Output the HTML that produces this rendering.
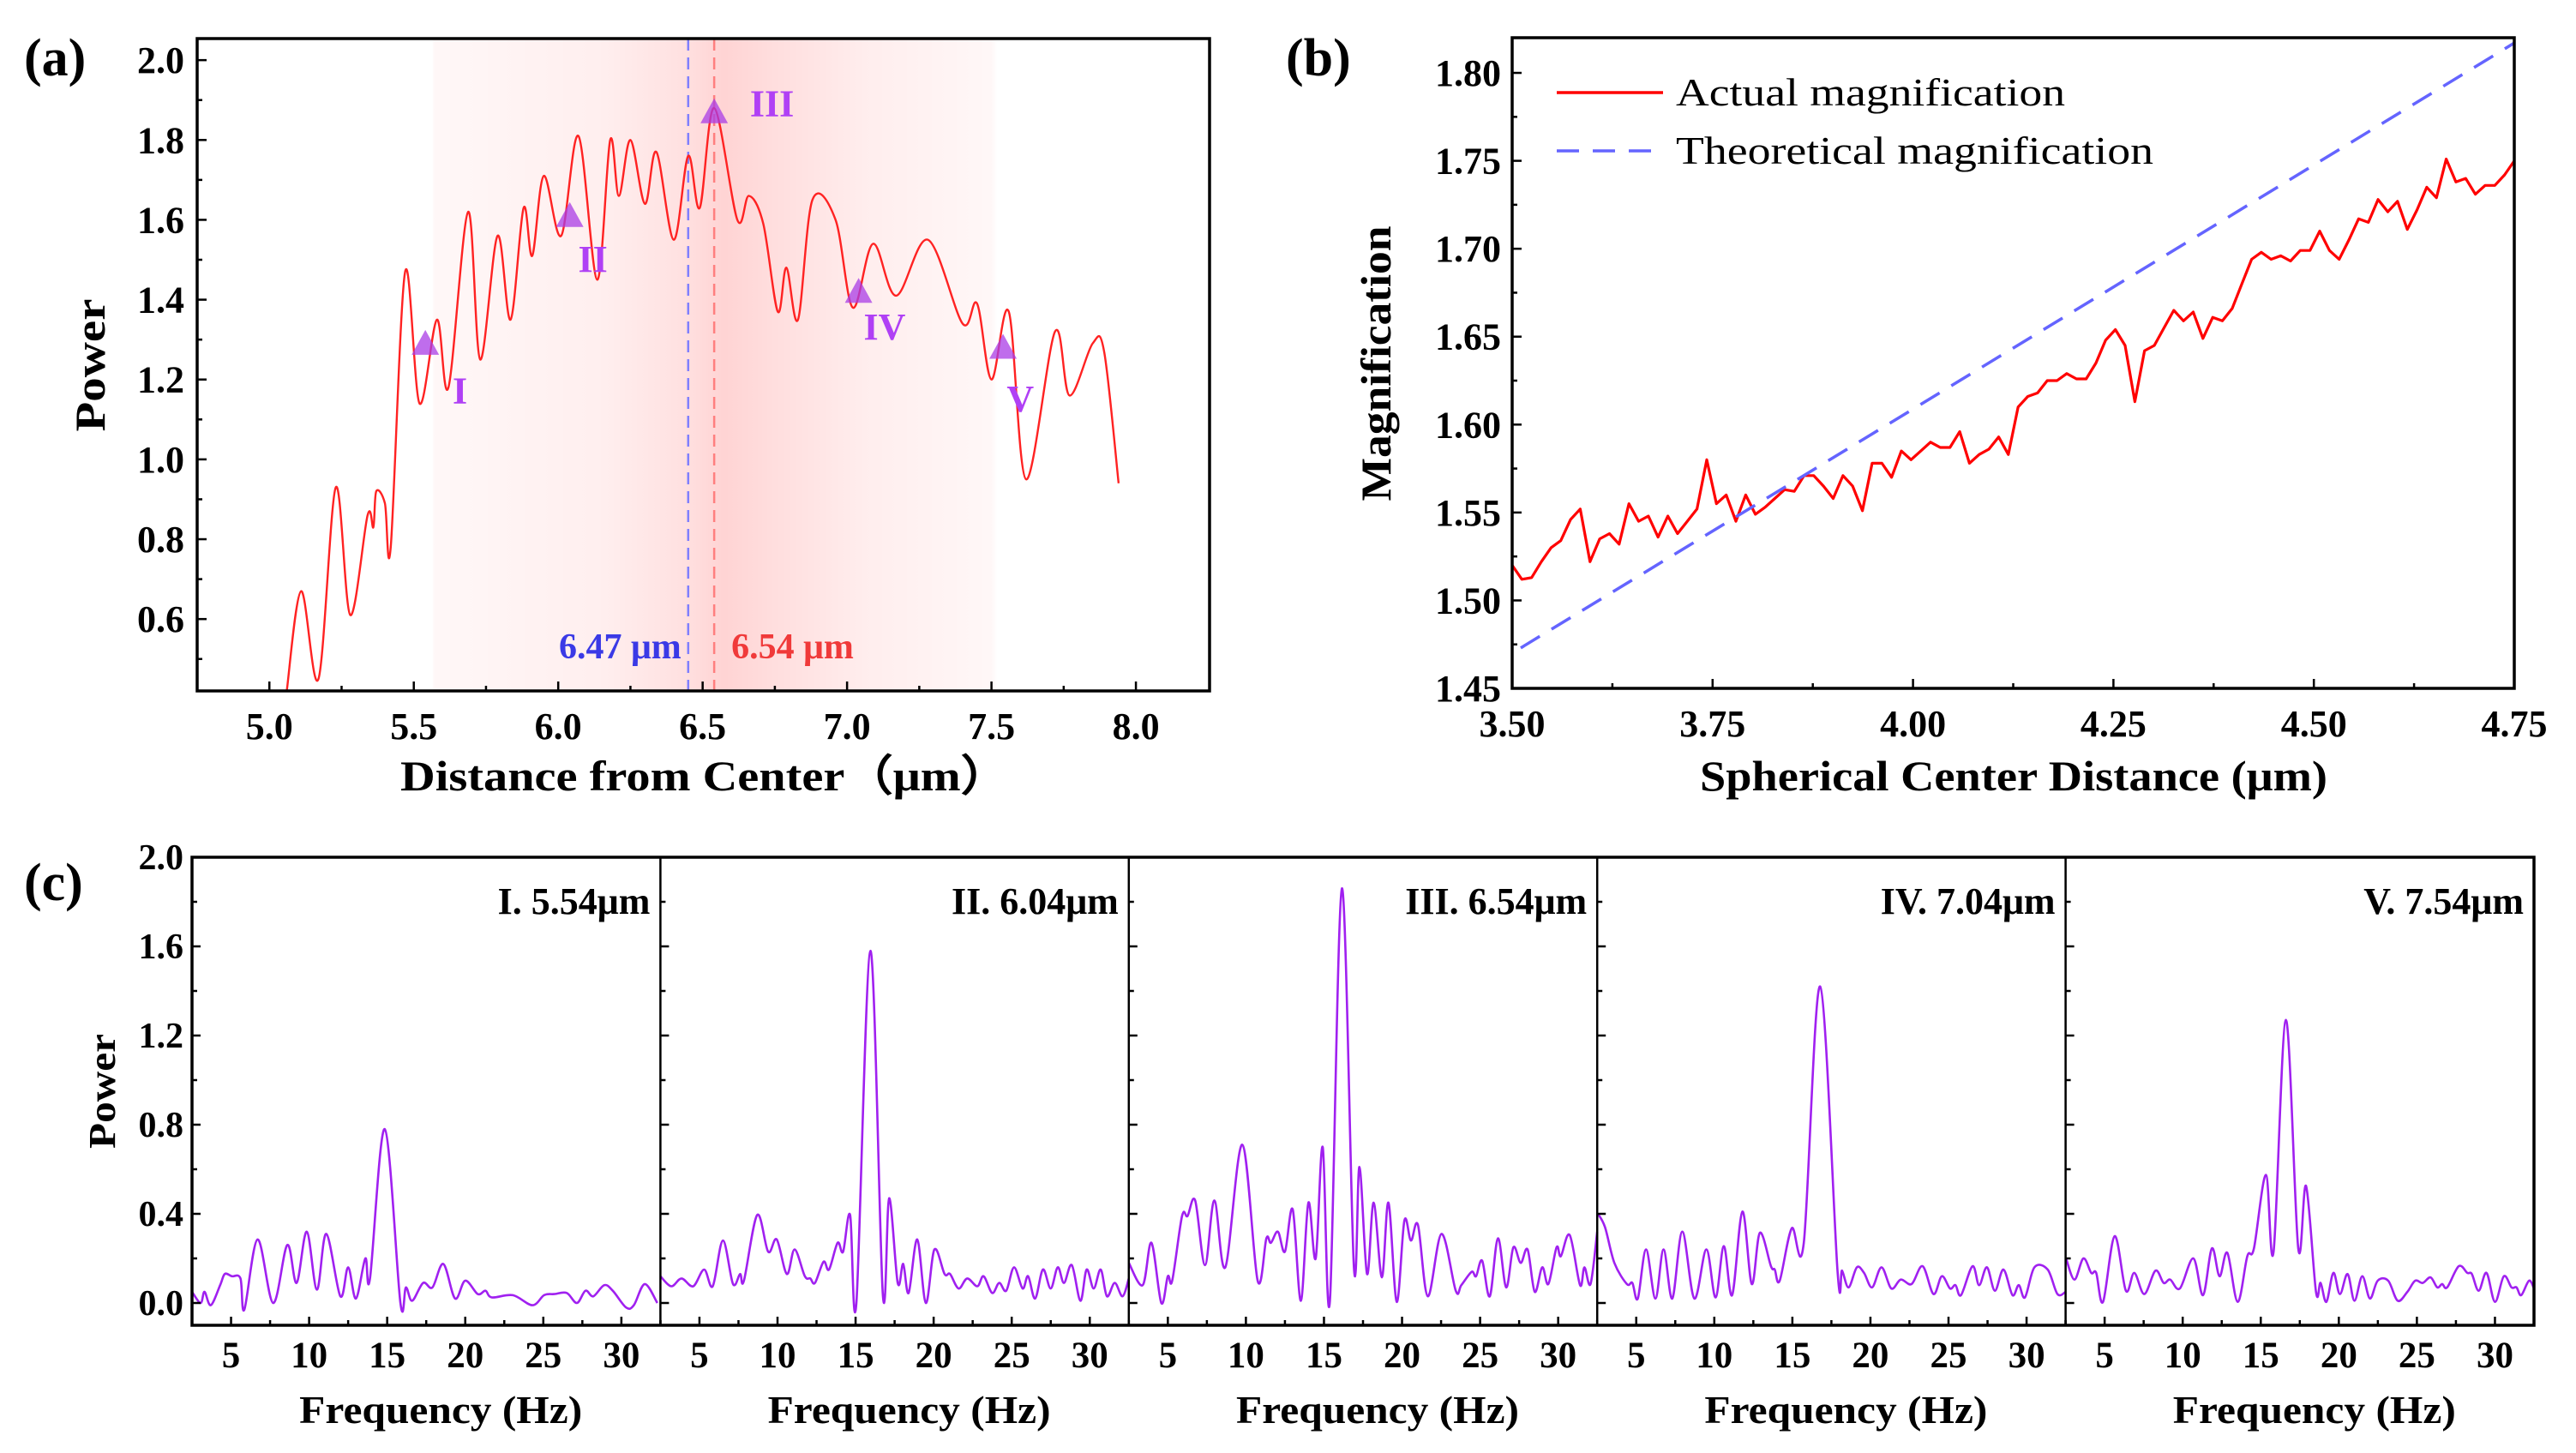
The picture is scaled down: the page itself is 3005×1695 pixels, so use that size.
<!DOCTYPE html>
<html><head><meta charset="utf-8"><title>Figure</title>
<style>html,body{margin:0;padding:0;background:#fff}svg{display:block}text{font-family:"Liberation Serif","Times New Roman",serif;font-weight:bold;fill:#000}</style>
</head><body>
<svg id="fig" xmlns="http://www.w3.org/2000/svg" width="3005" height="1695" viewBox="0 0 3005 1695" font-family="Liberation Serif, Times New Roman, serif">
<defs>
<linearGradient id="bandGrad" x1="230" x2="1411" y1="0" y2="0" gradientUnits="userSpaceOnUse">
<stop offset="0.232" stop-color="#ff0000" stop-opacity="0"/>
<stop offset="0.234" stop-color="#ff0000" stop-opacity="0.03"/>
<stop offset="0.40" stop-color="#ff0000" stop-opacity="0.065"/>
<stop offset="0.48" stop-color="#ff0000" stop-opacity="0.12"/>
<stop offset="0.52" stop-color="#ff0000" stop-opacity="0.17"/>
<stop offset="0.57" stop-color="#ff0000" stop-opacity="0.13"/>
<stop offset="0.66" stop-color="#ff0000" stop-opacity="0.07"/>
<stop offset="0.785" stop-color="#ff0000" stop-opacity="0.03"/>
<stop offset="0.79" stop-color="#ff0000" stop-opacity="0"/>
</linearGradient>
</defs>
<g id="pa"></g>
<g id="pb"></g>
<g id="pc"></g>
</svg>
<script>
// ---------- data: panel (a) ----------
const aX = [5.06,5.11,5.17,5.23,5.28,5.34,5.36,5.37,5.40,5.42,5.47,5.52,5.58,5.62,5.688,5.73,5.79,5.835,5.88,5.91,5.95,6.01,6.07,6.135,6.18,6.21,6.25,6.30,6.34,6.40,6.45,6.49,6.54,6.62,6.66,6.71,6.76,6.79,6.83,6.88,6.96,7.02,7.09,7.17,7.28,7.40,7.45,7.50,7.56,7.62,7.72,7.77,7.85,7.89,7.94];
const aY = [0.42,0.67,0.45,0.93,0.61,0.86,0.83,0.92,0.89,0.78,1.47,1.14,1.35,1.18,1.62,1.25,1.56,1.35,1.63,1.51,1.71,1.56,1.81,1.45,1.80,1.66,1.80,1.64,1.77,1.55,1.76,1.63,1.88,1.60,1.66,1.59,1.37,1.48,1.35,1.65,1.60,1.38,1.54,1.41,1.55,1.34,1.39,1.20,1.37,0.95,1.32,1.16,1.29,1.27,0.94];
const markX = [5.54,6.04,6.54,7.04,7.54];
const markY = [1.29,1.61,1.87,1.42,1.28];
const markLabels = ["I","II","III","IV","V"];
const markLabelX = [5.66,6.12,6.74,7.13,7.60];
const markLabelY = [1.17,1.50,1.89,1.33,1.15];
const aXTicks = [5.0,5.5,6.0,6.5,7.0,7.5,8.0];
const aYTicks = [0.6,0.8,1.0,1.2,1.4,1.6,1.8,2.0];
const vlineBlue = 6.45, vlineRed = 6.54;
// ---------- data: panel (b) ----------
const actualMag = [1.520,1.512,1.513,1.522,1.530,1.534,1.546,1.552,1.522,1.535,1.538,1.532,1.555,1.545,1.548,1.536,1.548,1.538,1.545,1.552,1.580,1.555,1.560,1.545,1.560,1.549,1.553,1.558,1.563,1.562,1.571,1.571,1.565,1.558,1.571,1.565,1.551,1.578,1.578,1.570,1.585,1.580,1.585,1.590,1.587,1.587,1.596,1.578,1.583,1.586,1.593,1.583,1.610,1.616,1.618,1.625,1.625,1.629,1.626,1.626,1.635,1.648,1.654,1.645,1.613,1.642,1.645,1.655,1.665,1.659,1.664,1.649,1.661,1.659,1.666,1.680,1.694,1.698,1.694,1.696,1.693,1.699,1.699,1.710,1.699,1.694,1.705,1.717,1.715,1.728,1.721,1.727,1.711,1.722,1.735,1.729,1.751,1.738,1.740,1.731,1.736,1.736,1.742,1.750];
const magStart = 3.50, magEnd = 4.75;
const theoX = [3.50,4.75];
const theoY = [1.473,1.817];
const bXTicks = [3.50,3.75,4.00,4.25,4.50,4.75];
const bYTicks = [1.45,1.50,1.55,1.60,1.65,1.70,1.75,1.80];
// ---------- data: panel (c) ----------
const s1F = [2.5,3.05,3.3,3.7,4.3,4.6,5.05,5.6,5.85,6.7,7.7,8.6,9.2,9.85,10.5,11.1,12.0,12.5,13.0,13.6,13.9,14.85,15.85,16.2,16.6,17.3,17.9,18.6,19.35,20.0,20.8,21.3,21.7,23.05,24.3,25.05,25.7,26.5,27.15,27.7,28.2,28.9,29.45,30.3,30.8,31.5,32.3];
const s1P = [0.05,0,0.05,-0.01,0.08,0.13,0.12,0.11,-0.03,0.285,0,0.26,0.09,0.32,0.06,0.31,0.03,0.16,0.02,0.2,0.11,0.78,0,0.07,0.01,0.09,0.07,0.175,0.02,0.10,0.04,0.055,0.025,0.035,-0.01,0.035,0.04,0.045,0,0.055,0.03,0.08,0.055,-0.02,-0.01,0.085,0];
const s2F = [2.5,3.2,3.85,4.6,5.3,5.85,6.5,7.15,7.6,7.85,8.7,9.4,9.95,10.6,11.1,11.75,12.1,12.4,12.95,13.3,13.85,14.2,14.65,15.05,15.95,16.75,17.15,17.7,18.05,18.4,18.95,19.5,20.05,20.7,21.05,21.6,22.15,22.8,23.2,23.75,24.2,24.65,25.15,25.7,26.05,26.5,27.0,27.5,27.95,28.35,28.85,29.4,29.8,30.25,30.7,31.1,31.6,32.1,32.5];
const s2P = [0.12,0.075,0.11,0.075,0.15,0.075,0.28,0.085,0.13,0.1,0.395,0.23,0.285,0.13,0.24,0.12,0.11,0.09,0.185,0.15,0.27,0.23,0.395,0,1.58,0.035,0.47,0.09,0.175,0.045,0.285,0,0.24,0.13,0.13,0.065,0.11,0.075,0.12,0.045,0.09,0.055,0.16,0.065,0.12,0.02,0.15,0.065,0.16,0.09,0.17,0.01,0.15,0.065,0.15,0.03,0.09,0.03,0.11];
const s3F = [2.5,3.39,3.95,4.58,5.0,5.28,5.91,6.26,6.75,7.38,7.98,8.68,9.77,10.75,11.31,11.6,12.05,12.5,13.0,13.52,14.0,14.47,14.92,15.38,16.15,16.92,17.27,17.76,18.18,18.71,19.13,19.66,20.15,20.57,21.02,21.65,22.53,23.44,23.8,24.46,24.74,25.13,25.62,26.14,26.67,27.13,27.6,28.04,28.5,28.98,29.37,29.9,30.17,30.74,31.4,31.68,32.07,32.5];
const s3P = [0.18,0.08,0.27,0,0.12,0.10,0.39,0.39,0.46,0.17,0.46,0.16,0.71,0.10,0.29,0.27,0.32,0.23,0.42,0.01,0.45,0.2,0.70,0.01,1.86,0.16,0.61,0.13,0.45,0.115,0.45,0.005,0.37,0.28,0.35,0.03,0.31,0.055,0.08,0.14,0.12,0.19,0.03,0.29,0.07,0.25,0.18,0.24,0.05,0.16,0.085,0.25,0.21,0.305,0.08,0.16,0.085,0.32];
const s4F = [2.55,3.0,3.6,4.4,4.75,5.1,5.63,6.23,6.75,7.31,7.95,8.72,9.49,10.08,10.61,11.14,11.8,12.4,12.92,13.63,13.87,14.19,14.96,15.73,16.78,17.9,18.18,18.6,19.13,19.59,20.11,20.71,21.34,21.94,22.64,23.34,24.04,24.57,25.1,25.45,25.8,26.54,26.96,27.46,27.97,28.52,29.1,29.5,29.9,30.5,31.35,31.98,32.5];
const s4P = [0.40,0.34,0.18,0.085,0.09,0.02,0.24,0.02,0.24,0.02,0.32,0.02,0.24,0.025,0.255,0.035,0.41,0.085,0.315,0.165,0.15,0.1,0.335,0.27,1.42,0.135,0.145,0.07,0.16,0.135,0.07,0.16,0.065,0.105,0.085,0.165,0.04,0.12,0.065,0.08,0.035,0.165,0.08,0.16,0.055,0.15,0.035,0.08,0.025,0.16,0.15,0.04,0.05];
const s5F = [2.55,3.07,3.64,4.14,4.46,4.9,5.64,6.36,6.9,7.54,8.26,8.78,9.2,9.82,10.68,11.3,11.87,12.36,12.86,13.52,14.14,14.56,15.33,15.82,16.61,17.4,17.9,18.54,18.83,19.2,19.65,20.07,20.56,21.0,21.5,21.99,22.49,23.16,23.77,24.39,24.89,25.38,25.88,26.3,26.62,26.94,27.68,28.23,28.52,28.96,29.46,30.0,30.57,31.06,31.38,31.68,32.18,32.5];
const s5P = [0.195,0.105,0.2,0.135,0.135,0.005,0.3,0.055,0.135,0.04,0.145,0.09,0.105,0.065,0.2,0.035,0.245,0.12,0.225,0.005,0.21,0.245,0.575,0.23,1.27,0.245,0.525,0.05,0.09,0.005,0.135,0.04,0.13,0.01,0.12,0.02,0.1,0.1,0.01,0.05,0.1,0.09,0.115,0.07,0.085,0.07,0.165,0.135,0.13,0.055,0.135,0.005,0.12,0.07,0.07,0.035,0.1,0.065];
const cTitles = ["I. 5.54μm","II. 6.04μm","III. 6.54μm","IV. 7.04μm","V. 7.54μm"];
const cXTicks = [5,10,15,20,25,30];
const cYTicks = [0.0,0.4,0.8,1.2,1.6,2.0];

const NS = "http://www.w3.org/2000/svg";
function mk(parent, tag, attrs, text) {
  const e = document.createElementNS(NS, tag);
  for (const k in attrs) e.setAttribute(k, attrs[k]);
  if (text !== undefined) e.textContent = text;
  parent.appendChild(e);
  return e;
}
function smoothPath(pts) {
  let d = "M" + pts[0][0].toFixed(1) + "," + pts[0][1].toFixed(1);
  for (let i = 0; i < pts.length - 1; i++) {
    const p0 = pts[i - 1] || pts[i], p1 = pts[i], p2 = pts[i + 1], p3 = pts[i + 2] || p2;
    const c1x = p1[0] + (p2[0] - p0[0]) / 6, c1y = p1[1] + (p2[1] - p0[1]) / 6;
    const c2x = p2[0] - (p3[0] - p1[0]) / 6, c2y = p2[1] - (p3[1] - p1[1]) / 6;
    d += " C" + c1x.toFixed(1) + "," + c1y.toFixed(1) + " " + c2x.toFixed(1) + "," + c2y.toFixed(1) + " " + p2[0].toFixed(1) + "," + p2[1].toFixed(1);
  }
  return d;
}

// ================= Panel A =================
(function () {
  const g = document.getElementById("pa");
  const L = 230, R = 1411, T = 45, B = 806;
  const x0 = 4.75, x1 = 8.255, y0 = 0.42, y1 = 2.054;
  const sx = v => L + (v - x0) / (x1 - x0) * (R - L);
  const sy = v => B - (v - y0) / (y1 - y0) * (B - T);
  let e;
  e = mk(g, "rect", {x: L, y: T, width: R - L, height: B - T, fill: "url(#bandGrad)"});
  
  
  e = mk(g, "line", {x1: sx(vlineBlue), x2: sx(vlineBlue), y1: T, y2: B, stroke: "#7f7fff", "stroke-width": 2.5, "stroke-dasharray": "14 8"});
  
  
  e = mk(g, "line", {x1: sx(vlineRed), x2: sx(vlineRed), y1: T, y2: B, stroke: "#ff7f7f", "stroke-width": 2.5, "stroke-dasharray": "14 8"});
  
  
  const pts = aX.map((v, i) => [sx(v), sy(aY[i])]);
  e = mk(g, "path", {d: smoothPath(pts), fill: "none", stroke: "#f22", "stroke-width": 2.4});
  
  
  markX.forEach((v, i) => {
    const cx = sx(v), cy = sy(markY[i]);
    const t = mk(g, "polygon", {points: (cx - 16) + "," + (cy + 13) + " " + (cx + 16) + "," + (cy + 13) + " " + cx + "," + (cy - 16), fill: "rgba(170,60,230,0.75)"});
    
    
    const lb = mk(g, "text", {x: sx(markLabelX[i]), y: sy(markLabelY[i]) + 14, "font-size": 44, "text-anchor": "middle", style: "fill:#b040f5"}, markLabels[i]);
    
    
  });
  e = mk(g, "text", {x: sx(vlineBlue) - 8, y: 768, "font-size": 42, "text-anchor": "end", style: "fill:#3a3ae6"}, "6.47 μm");
  
  
  e = mk(g, "text", {x: sx(vlineRed) + 20, y: 768, "font-size": 42, style: "fill:#f03a3a"}, "6.54 μm");
  
  
  for (let v = 5.0; v <= 8.0001; v += 0.25) {
    const len = Math.abs(v * 2 - Math.round(v * 2)) < 1e-6 ? 11 : 6;
    e = mk(g, "line", {x1: sx(v), x2: sx(v), y1: B, y2: B - len, stroke: "#000", "stroke-width": 2.5});
    
    
  }
  aXTicks.forEach(v => {
    e = mk(g, "text", {x: sx(v), y: 862, "font-size": 44, "text-anchor": "middle"}, v.toFixed(1));
    
    
  });
  for (let v = 0.5; v <= 2.0001; v += 0.1) {
    const major = Math.abs(v * 5 - Math.round(v * 5)) < 1e-6;
    e = mk(g, "line", {x1: L, x2: L + (major ? 11 : 6), y1: sy(v), y2: sy(v), stroke: "#000", "stroke-width": 2.5});
    
    
  }
  aYTicks.forEach(v => {
    e = mk(g, "text", {x: 215, y: sy(v) + 15, "font-size": 44, "text-anchor": "end"}, v.toFixed(1));
    
    
  });
  e = mk(g, "rect", {x: L, y: T, width: R - L, height: B - T, fill: "none", stroke: "#000", "stroke-width": 3.5});
  
  
  e = mk(g, "text", {x: 822, y: 922, "font-size": 50, "text-anchor": "middle", textLength: 710, lengthAdjust: "spacingAndGlyphs"}, "Distance from Center（μm）");
  
  
  e = mk(g, "text", {x: 0, y: 0, "font-size": 50, "text-anchor": "middle", transform: "translate(122,426) rotate(-90)", textLength: 155, lengthAdjust: "spacingAndGlyphs"}, "Power");
  
  
  e = mk(g, "text", {x: 28, y: 88, "font-size": 62}, "(a)");
  
  
})();

// ================= Panel B =================
(function () {
  const g = document.getElementById("pb");
  const L = 1764, R = 2933, T = 44, B = 803;
  const x0 = 3.50, x1 = 4.75, y0 = 1.45, y1 = 1.82;
  const sx = v => L + (v - x0) / (x1 - x0) * (R - L);
  const sy = v => B - (v - y0) / (y1 - y0) * (B - T);
  let e;
  const step = (magEnd - magStart) / (actualMag.length - 1);
  const pts = actualMag.map((v, i) => [sx(magStart + i * step), sy(v)]);
  e = mk(g, "polyline", {points: pts.map(p => p[0].toFixed(1) + "," + p[1].toFixed(1)).join(" "), fill: "none", stroke: "#f00", "stroke-width": 3.2, "stroke-linejoin": "round"});
  
  
  e = mk(g, "line", {x1: sx(theoX[0]) + 10, y1: sy(theoY[0]), x2: sx(theoX[1]), y2: sy(theoY[1]), stroke: "#6464ff", "stroke-width": 3.5, "stroke-dasharray": "26 16"});
  
  
  for (let v = 3.50; v <= 4.7501; v += 0.125) {
    const major = Math.abs(v * 4 - Math.round(v * 4)) < 1e-6;
    e = mk(g, "line", {x1: sx(v), x2: sx(v), y1: B, y2: B - (major ? 11 : 6), stroke: "#000", "stroke-width": 2.5});
    
    
  }
  bXTicks.forEach(v => {
    e = mk(g, "text", {x: sx(v), y: 859, "font-size": 44, "text-anchor": "middle"}, v.toFixed(2));
    
    
  });
  for (let v = 1.45; v <= 1.8201; v += 0.025) {
    const major = Math.abs(v * 20 - Math.round(v * 20)) < 1e-6;
    e = mk(g, "line", {x1: L, x2: L + (major ? 11 : 6), y1: sy(v), y2: sy(v), stroke: "#000", "stroke-width": 2.5});
    
    
  }
  bYTicks.forEach(v => {
    e = mk(g, "text", {x: 1751, y: sy(v) + 15, "font-size": 44, "text-anchor": "end"}, v.toFixed(2));
    
    
  });
  e = mk(g, "rect", {x: L, y: T, width: R - L, height: B - T, fill: "none", stroke: "#000", "stroke-width": 3.5});
  
  
  const lg = mk(g, "g", {});
  
  
  e = mk(lg, "line", {x1: 1816, x2: 1940, y1: 108, y2: 108, stroke: "#f00", "stroke-width": 3.5});
  
  
  e = mk(lg, "text", {x: 1955, y: 123, "font-size": 46, style: "font-weight:normal", textLength: 454, lengthAdjust: "spacingAndGlyphs"}, "Actual magnification");
  
  
  e = mk(lg, "line", {x1: 1816, x2: 1940, y1: 176, y2: 176, stroke: "#6464ff", "stroke-width": 3.5, "stroke-dasharray": "26 16"});
  
  
  e = mk(lg, "text", {x: 1955, y: 191, "font-size": 46, style: "font-weight:normal", textLength: 557, lengthAdjust: "spacingAndGlyphs"}, "Theoretical magnification");
  
  
  e = mk(g, "text", {x: 2349, y: 922, "font-size": 50, "text-anchor": "middle", textLength: 732, lengthAdjust: "spacingAndGlyphs"}, "Spherical Center Distance (μm)");
  
  
  e = mk(g, "text", {x: 0, y: 0, "font-size": 50, "text-anchor": "middle", transform: "translate(1622,424) rotate(-90)", textLength: 321, lengthAdjust: "spacingAndGlyphs"}, "Magnification");
  
  
  e = mk(g, "text", {x: 1500, y: 88, "font-size": 62}, "(b)");
  
  
})();

// ================= Panel C =================
(function () {
  const g = document.getElementById("pc");
  const L = 224, R = 2956, T = 1000, B = 1546;
  const W = (R - L) / 5;
  const x0 = 2.5, x1 = 32.5, y0 = -0.1, y1 = 2.0;
  const sy = v => B - (v - y0) / (y1 - y0) * (B - T);
  const series = [[s1F, s1P], [s2F, s2P], [s3F, s3P], [s4F, s4P], [s5F, s5P]];
  let e;
  series.forEach((s, k) => {
    const pl = L + k * W;
    const sx = v => pl + (v - x0) / (x1 - x0) * W;
    const sg = mk(g, "g", {});
    
    
    const pts = s[0].map((f, i) => [sx(f), sy(s[1][i])]);
    e = mk(sg, "path", {d: smoothPath(pts), fill: "none", stroke: "#a020f0", "stroke-width": 2.6});
    
    
    for (let v = 2.5; v <= 32.5; v += 2.5) {
      const major = v % 5 === 0;
      e = mk(sg, "line", {x1: sx(v), x2: sx(v), y1: B, y2: B - (major ? 10 : 6), stroke: "#000", "stroke-width": 2.5});
      
      
    }
    cXTicks.forEach(v => {
      e = mk(sg, "text", {x: sx(v), y: 1595, "font-size": 43, "text-anchor": "middle"}, String(v));
      
      
    });
    for (let v = 0; v <= 2.0001; v += 0.2) {
      const major = Math.abs(v / 0.4 - Math.round(v / 0.4)) < 1e-6;
      e = mk(sg, "line", {x1: pl, x2: pl + (major ? 10 : 6), y1: sy(v), y2: sy(v), stroke: "#000", "stroke-width": 2.5});
      
      
    }
    if (k > 0) {
      e = mk(sg, "line", {x1: pl, x2: pl, y1: T, y2: B, stroke: "#000", "stroke-width": 2.5});
      
      
    }
    e = mk(sg, "text", {x: pl + W - 12, y: 1066, "font-size": 44, "text-anchor": "end"}, cTitles[k]);
    
    
    e = mk(sg, "text", {x: pl + W / 2 + 17, y: 1660, "font-size": 46, "text-anchor": "middle", textLength: 330, lengthAdjust: "spacingAndGlyphs"}, "Frequency (Hz)");
    
    
  });
  cYTicks.forEach(v => {
    e = mk(g, "text", {x: 214, y: sy(v) + 14, "font-size": 42, "text-anchor": "end"}, v.toFixed(1));
    
    
  });
  e = mk(g, "rect", {x: L, y: T, width: R - L, height: B - T, fill: "none", stroke: "#000", "stroke-width": 3.5});
  
  
  e = mk(g, "text", {x: 0, y: 0, "font-size": 44, "text-anchor": "middle", transform: "translate(134,1273) rotate(-90)", textLength: 134, lengthAdjust: "spacingAndGlyphs"}, "Power");
  
  
  e = mk(g, "text", {x: 28, y: 1050, "font-size": 62}, "(c)");
  
  
})();
</script>
</body></html>
